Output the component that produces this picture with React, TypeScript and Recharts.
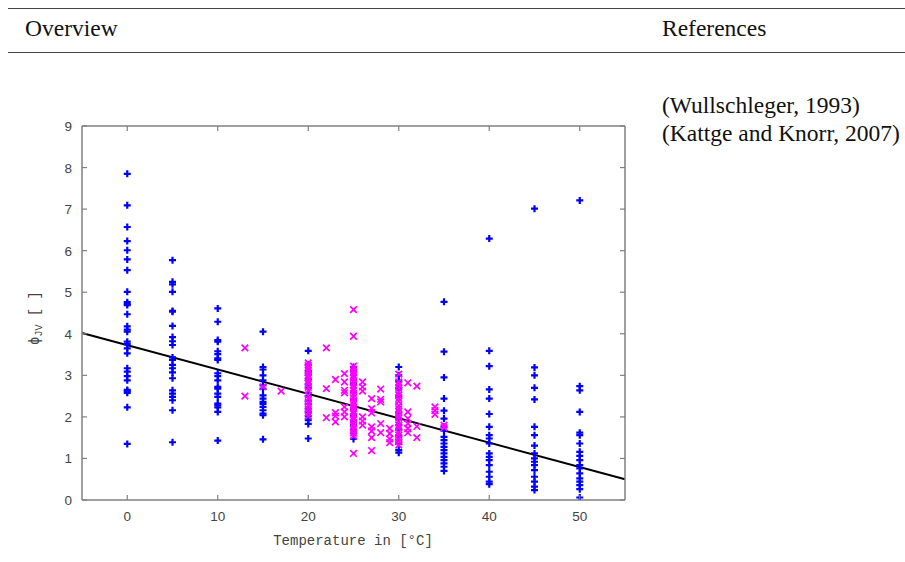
import React from 'react';
import { ScatterChart, Scatter, XAxis, YAxis, ReferenceLine } from 'recharts';

const xTicks = [0, 10, 20, 30, 40, 50];
const yTicks = [0, 1, 2, 3, 4, 5, 6, 7, 8, 9];

// Wullschleger (1993): blue "+" markers, one list per measurement temperature
const blueAt0 = [7.85, 7.09, 6.57, 6.23, 6.01, 5.79, 5.53, 5.01, 4.76, 4.72, 4.69, 4.47, 4.18, 4.1, 4.05, 3.81, 3.75, 3.65, 3.53, 3.17, 3.09, 2.98, 2.88, 2.65, 2.62, 2.58, 2.23, 1.35];
const blueAt5 = [5.77, 5.25, 5.19, 5.01, 4.55, 4.53, 4.19, 3.92, 3.82, 3.73, 3.43, 3.37, 3.25, 3.17, 3.07, 2.93, 2.64, 2.56, 2.48, 2.4, 2.16, 1.39];
const blueAt10 = [4.61, 4.29, 3.85, 3.81, 3.58, 3.51, 3.41, 3.37, 3.05, 2.98, 2.88, 2.72, 2.68, 2.56, 2.48, 2.32, 2.28, 2.23, 2.12, 1.43];
const blueAt15 = [4.05, 3.2, 3.14, 3.0, 2.88, 2.76, 2.68, 2.52, 2.44, 2.36, 2.31, 2.24, 2.16, 2.08, 2.04, 1.46];
const blueAt20 = [3.59, 3.26, 3.1, 3.02, 2.9, 2.78, 2.7, 2.58, 2.5, 2.38, 2.31, 2.2, 2.12, 2.01, 1.92, 1.83, 1.48];
const blueAt25 = [3.2, 3.1, 3.01, 2.9, 2.79, 2.6, 2.42, 2.2, 2.02, 1.9, 1.81, 1.7, 1.6, 1.47];
const blueAt30 = [3.2, 3.0, 2.86, 2.7, 2.5, 2.1, 1.95, 1.8, 1.7, 1.55, 1.45, 1.35, 1.2, 1.14];
const blueAt35 = [4.77, 3.57, 2.95, 2.44, 2.15, 1.96, 1.76, 1.67, 1.52, 1.44, 1.36, 1.28, 1.2, 1.12, 1.04, 0.96, 0.88, 0.8, 0.7];
const blueAt40 = [6.29, 3.59, 3.22, 2.66, 2.44, 2.07, 1.76, 1.56, 1.48, 1.36, 1.12, 1.04, 0.96, 0.84, 0.68, 0.56, 0.44, 0.38];
const blueAt45 = [7.01, 3.19, 3.0, 2.7, 2.42, 1.76, 1.56, 1.31, 1.12, 1.0, 0.92, 0.84, 0.72, 0.56, 0.44, 0.32, 0.24];
const blueAt50 = [7.21, 2.74, 2.64, 2.12, 1.62, 1.56, 1.36, 1.16, 1.06, 0.96, 0.84, 0.76, 0.64, 0.52, 0.44, 0.36, 0.26, 0.06];

const blueColumns: [number, number[]][] = [
  [0, blueAt0], [5, blueAt5], [10, blueAt10], [15, blueAt15], [20, blueAt20], [25, blueAt25],
  [30, blueAt30], [35, blueAt35], [40, blueAt40], [45, blueAt45], [50, blueAt50],
];

// Kattge and Knorr (2007): magenta "x" markers
const magentaAt20 = [3.3, 3.24, 3.19, 3.13, 3.06, 2.99, 2.94, 2.87, 2.8, 2.71, 2.63, 2.52, 2.44, 2.35, 2.27, 2.19, 2.1, 2.02];
const magentaAt25 = [4.58, 3.94, 3.22, 3.15, 3.07, 3.0, 2.93, 2.84, 2.77, 2.7, 2.63, 2.54, 2.46, 2.37, 2.3, 2.22, 2.14, 2.07, 2.0, 1.93, 1.84, 1.77, 1.7, 1.61, 1.54, 1.12];
const magentaAt30 = [3.03, 2.84, 2.77, 2.69, 2.6, 2.53, 2.44, 2.37, 2.27, 2.2, 2.13, 2.04, 1.97, 1.88, 1.8, 1.73, 1.63, 1.56, 1.47, 1.4, 1.32];

const magentaColumns: [number, number[]][] = [
  [13, [3.66, 2.5]],
  [15, [2.72]],
  [17, [2.62]],
  [20, magentaAt20],
  [22, [3.66, 2.68, 1.98]],
  [23, [2.9, 2.1, 2.02, 1.88]],
  [24, [3.04, 2.84, 2.64, 2.58, 2.24, 2.12, 2.0]],
  [25, magentaAt25],
  [26, [2.84, 2.72, 2.62, 2.0, 1.9, 1.8]],
  [27, [2.44, 2.2, 2.1, 1.76, 1.66, 1.5, 1.19]],
  [28, [2.67, 2.42, 2.36, 1.84, 1.62]],
  [29, [1.72, 1.6, 1.47, 1.38]],
  [30, magentaAt30],
  [31, [2.82, 2.12, 1.96, 1.84, 1.72, 1.62]],
  [32, [2.74, 1.77, 1.5]],
  [34, [2.24, 2.15, 2.06]],
  [35, [1.8, 1.74]],
];

// linear fit drawn across the whole temperature range
const fitLine = [
  { x: -5, y: 4.02 },
  { x: 55, y: 0.5 },
];

const toPoints = (cols: [number, number[]][]) =>
  cols.flatMap(([t, vals]) => vals.map((v) => ({ x: t, y: v })));

const bluePoints = toPoints(blueColumns);
const magentaPoints = toPoints(magentaColumns);

const AXIS = '#808080';
const LABEL = '#444444';
const TICK_LEN = 5;

const PlusShape = (props: any) => {
  const { cx, cy } = props;
  const s = 3.5;
  return (
    <path d={`M${cx - s},${cy}H${cx + s}M${cx},${cy - s}V${cy + s}`} stroke="#0000ff" strokeWidth={2.2} fill="none" />
  );
};

const CrossShape = (props: any) => {
  const { cx, cy } = props;
  const s = 3.3;
  return (
    <path
      d={`M${cx - s},${cy - s}L${cx + s},${cy + s}M${cx - s},${cy + s}L${cx + s},${cy - s}`}
      stroke="#ff00ff"
      strokeWidth={1.7}
      fill="none"
    />
  );
};

const BottomTick = ({ x, y, payload }: any) => (
  <g>
    <line x1={x} y1={y} x2={x} y2={y - TICK_LEN} stroke={AXIS} strokeWidth={1.2} />
    <text x={x} y={y + 21} textAnchor="middle" fill={LABEL} fontSize={13.5} fontFamily="'Liberation Sans', Arial, sans-serif">
      {payload.value}
    </text>
  </g>
);

const TopTick = ({ x, y }: any) => (
  <line x1={x} y1={y} x2={x} y2={y + TICK_LEN} stroke={AXIS} strokeWidth={1.2} />
);

const LeftTick = ({ x, y, payload }: any) => (
  <g>
    <line x1={x} y1={y} x2={x + TICK_LEN} y2={y} stroke={AXIS} strokeWidth={1.2} />
    <text x={x - 10} y={y + 5} textAnchor="end" fill={LABEL} fontSize={13.5} fontFamily="'Liberation Sans', Arial, sans-serif">
      {payload.value}
    </text>
  </g>
);

const RightTick = ({ x, y }: any) => (
  <line x1={x} y1={y} x2={x - TICK_LEN} y2={y} stroke={AXIS} strokeWidth={1.2} />
);

const serif = "'Liberation Serif', 'Times New Roman', serif";
const mono = "'Liberation Mono', 'DejaVu Sans Mono', monospace";

export default function App() {
  return (
    <div style={{ position: 'absolute', left: 0, top: 0, width: 905, height: 562, background: '#fff', overflow: 'hidden' }}>
      <div style={{ position: 'absolute', left: 8, right: 0, top: 8, borderTop: '1.5px solid #444' }} />
      <div style={{ position: 'absolute', left: 8, right: 0, top: 52, borderTop: '1.5px solid #444' }} />
      <div style={{ position: 'absolute', left: 25, top: 15, fontFamily: serif, fontSize: 23.5, lineHeight: '26px', color: '#111' }}>
        Overview
      </div>
      <div style={{ position: 'absolute', left: 662, top: 15, fontFamily: serif, fontSize: 23.5, lineHeight: '26px', color: '#111' }}>
        References
      </div>
      <div style={{ position: 'absolute', left: 662, top: 91, fontFamily: serif, fontSize: 23.5, lineHeight: '28px', color: '#111', whiteSpace: 'nowrap' }}>
        (Wullschleger, 1993)
        <br />
        (Kattge and Knorr, 2007)
      </div>

      <div style={{ position: 'absolute', left: 0, top: 0 }}>
        <ScatterChart width={700} height={562} margin={{ top: 125, right: 74, bottom: 32, left: 42 }}>
          <XAxis
            xAxisId="bottom"
            type="number"
            dataKey="x"
            domain={[-5, 55]}
            ticks={xTicks}
            height={30}
            stroke={AXIS}
            strokeWidth={1.5}
            tickLine={false}
            tickSize={0}
            tickMargin={0}
            tick={<BottomTick />}
            allowDataOverflow
          />
          <XAxis
            xAxisId="top"
            orientation="top"
            type="number"
            dataKey="x"
            domain={[-5, 55]}
            ticks={xTicks}
            height={1}
            stroke={AXIS}
            strokeWidth={1.5}
            tickLine={false}
            tickSize={0}
            tickMargin={0}
            tick={<TopTick />}
            allowDataOverflow
          />
          <YAxis
            yAxisId="left"
            type="number"
            dataKey="y"
            domain={[0, 9]}
            ticks={yTicks}
            width={40}
            stroke={AXIS}
            strokeWidth={1.5}
            tickLine={false}
            tickSize={0}
            tickMargin={0}
            tick={<LeftTick />}
            allowDataOverflow
          />
          <YAxis
            yAxisId="right"
            orientation="right"
            type="number"
            dataKey="y"
            domain={[0, 9]}
            ticks={yTicks}
            width={1}
            stroke={AXIS}
            strokeWidth={1.5}
            tickLine={false}
            tickSize={0}
            tickMargin={0}
            tick={<RightTick />}
            allowDataOverflow
          />
          <Scatter xAxisId="bottom" yAxisId="left" data={bluePoints} shape={<PlusShape />} isAnimationActive={false} />
          <Scatter xAxisId="bottom" yAxisId="left" data={magentaPoints} shape={<CrossShape />} isAnimationActive={false} />
          <ReferenceLine
            xAxisId="bottom"
            yAxisId="left"
            segment={fitLine}
            stroke="#000"
            strokeWidth={2}
            ifOverflow="extendDomain"
          />
        </ScatterChart>
      </div>

      <div
        style={{
          position: 'absolute',
          left: 353,
          top: 541,
          transform: 'translate(-50%, -50%)',
          fontFamily: mono,
          fontSize: 14,
          color: LABEL,
          whiteSpace: 'nowrap',
        }}
      >
        Temperature in [°C]
      </div>
      <div
        style={{
          position: 'absolute',
          left: 36,
          top: 318,
          transform: 'translate(-50%, -50%) rotate(-90deg)',
          fontFamily: mono,
          fontSize: 14,
          color: LABEL,
          whiteSpace: 'nowrap',
        }}
      >
        ϕ<sub style={{ fontSize: 10 }}>JV</sub> [ ]
      </div>
    </div>
  );
}
